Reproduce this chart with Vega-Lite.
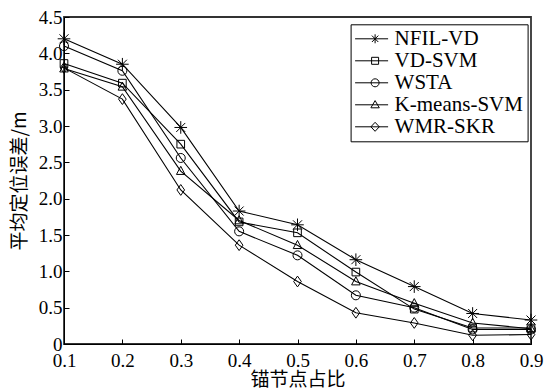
{
  "$schema": "https://vega.github.io/schema/vega-lite/v6.json",
  "width": 467,
  "height": 327,
  "autosize": {"type": "none"},
  "padding": {"left": 64, "top": 17, "right": 14, "bottom": 46},
  "background": "white",
  "config": {
    "view": {"stroke": "#333333", "strokeWidth": 1.8},
    "axis": {
      "domainColor": "black",
      "tickColor": "black",
      "tickSize": -5,
      "grid": false,
      "labelFont": "Liberation Serif",
      "labelFontSize": 19,
      "labelColor": "black",
      "titleFont": "Noto Sans CJK SC",
      "titleFontSize": 19,
      "titleFontWeight": "normal",
      "titleColor": "black"
    }
  },
  "data": {
    "values": [
      {"x": 0.1, "series": "NFIL-VD", "y": 4.2},
      {"x": 0.2, "series": "NFIL-VD", "y": 3.85},
      {"x": 0.3, "series": "NFIL-VD", "y": 2.98},
      {"x": 0.4, "series": "NFIL-VD", "y": 1.83},
      {"x": 0.5, "series": "NFIL-VD", "y": 1.64},
      {"x": 0.6, "series": "NFIL-VD", "y": 1.16},
      {"x": 0.7, "series": "NFIL-VD", "y": 0.79},
      {"x": 0.8, "series": "NFIL-VD", "y": 0.42},
      {"x": 0.9, "series": "NFIL-VD", "y": 0.33},
      {"x": 0.1, "series": "VD-SVM", "y": 3.86},
      {"x": 0.2, "series": "VD-SVM", "y": 3.59},
      {"x": 0.3, "series": "VD-SVM", "y": 2.75},
      {"x": 0.4, "series": "VD-SVM", "y": 1.68},
      {"x": 0.5, "series": "VD-SVM", "y": 1.53},
      {"x": 0.6, "series": "VD-SVM", "y": 0.99},
      {"x": 0.7, "series": "VD-SVM", "y": 0.48},
      {"x": 0.8, "series": "VD-SVM", "y": 0.22},
      {"x": 0.9, "series": "VD-SVM", "y": 0.22},
      {"x": 0.1, "series": "WSTA", "y": 4.1},
      {"x": 0.2, "series": "WSTA", "y": 3.76},
      {"x": 0.3, "series": "WSTA", "y": 2.56},
      {"x": 0.4, "series": "WSTA", "y": 1.55},
      {"x": 0.5, "series": "WSTA", "y": 1.22},
      {"x": 0.6, "series": "WSTA", "y": 0.67},
      {"x": 0.7, "series": "WSTA", "y": 0.5},
      {"x": 0.8, "series": "WSTA", "y": 0.2},
      {"x": 0.9, "series": "WSTA", "y": 0.2},
      {"x": 0.1, "series": "K-means-SVM", "y": 3.79},
      {"x": 0.2, "series": "K-means-SVM", "y": 3.54},
      {"x": 0.3, "series": "K-means-SVM", "y": 2.38},
      {"x": 0.4, "series": "K-means-SVM", "y": 1.7},
      {"x": 0.5, "series": "K-means-SVM", "y": 1.36},
      {"x": 0.6, "series": "K-means-SVM", "y": 0.86},
      {"x": 0.7, "series": "K-means-SVM", "y": 0.56},
      {"x": 0.8, "series": "K-means-SVM", "y": 0.29},
      {"x": 0.9, "series": "K-means-SVM", "y": 0.21},
      {"x": 0.1, "series": "WMR-SKR", "y": 3.8},
      {"x": 0.2, "series": "WMR-SKR", "y": 3.37},
      {"x": 0.3, "series": "WMR-SKR", "y": 2.12},
      {"x": 0.4, "series": "WMR-SKR", "y": 1.36},
      {"x": 0.5, "series": "WMR-SKR", "y": 0.86},
      {"x": 0.6, "series": "WMR-SKR", "y": 0.43},
      {"x": 0.7, "series": "WMR-SKR", "y": 0.29},
      {"x": 0.8, "series": "WMR-SKR", "y": 0.12},
      {"x": 0.9, "series": "WMR-SKR", "y": 0.13}
    ]
  },
  "encoding": {
    "x": {
      "field": "x", "type": "quantitative",
      "scale": {"domain": [0.1, 0.9], "nice": false, "zero": false},
      "axis": {"values": [0.1, 0.2, 0.3, 0.4, 0.5, 0.6, 0.7, 0.8, 0.9], "format": ".1f", "title": "锚节点占比", "labelPadding": 12, "titlePadding": 0, "labelFlush": false}
    },
    "y": {
      "field": "y", "type": "quantitative",
      "scale": {"domain": [0, 4.5], "nice": false},
      "axis": {"values": [0, 0.5, 1, 1.5, 2, 2.5, 3, 3.5, 4, 4.5], "labelExpr": "datum.value == 0 ? '0' : format(datum.value, '.1f')", "title": "平均定位误差/m", "labelPadding": 7, "titlePadding": 9, "labelFlush": false}
    }
  },
  "layer": [
    {
      "mark": {"type": "line", "color": "black", "strokeWidth": 1.1},
      "encoding": {"detail": {"field": "series", "type": "nominal"}}
    },
    {
      "mark": {"type": "point", "filled": false, "color": "black", "strokeWidth": 1, "size": 81, "opacity": 1},
      "encoding": {
        "shape": {
          "field": "series", "type": "nominal",
          "scale": {
            "domain": ["NFIL-VD", "VD-SVM", "WSTA", "K-means-SVM", "WMR-SKR"],
            "range": [
              "M-1.4,0L1.4,0M0,-1.4L0,1.4M-1,-1L1,1M-1,1L1,-1",
              "M-0.85,-0.85H0.85V0.85H-0.85Z",
              "circle",
              "M0,-1.05L0.95,0.75L-0.95,0.75Z",
              "M0,-1.2L0.85,0L0,1.2L-0.85,0Z"
            ]
          },
          "legend": null
        }
      }
    },
    {
      "mark": {"type": "point", "filled": false, "color": "black", "strokeWidth": 1, "size": 400, "opacity": 0},
      "encoding": {
        "shape": {
          "field": "series", "type": "nominal",
          "scale": {
            "domain": ["NFIL-VD", "VD-SVM", "WSTA", "K-means-SVM", "WMR-SKR"],
            "range": [
              "M-1,0L2.3,0M1,-0.45L1,0.45M0.68,-0.32L1.32,0.32M0.68,0.32L1.32,-0.32",
              "M-1,0L2.3,0M0.65,-0.35L1.35,-0.35L1.35,0.35L0.65,0.35Z",
              "M-1,0L2.3,0M0.6,0A0.4,0.4,0,1,1,1.4,0A0.4,0.4,0,1,1,0.6,0Z",
              "M-1,0L2.3,0M1,-0.42L1.42,0.3L0.58,0.3Z",
              "M-1,0L2.3,0M1,-0.45L1.42,0L1,0.45L0.58,0Z"
            ]
          },
          "legend": {
            "title": null,
            "orient": "none",
            "legendX": 286.6,
            "legendY": 7.3,
            "symbolSize": 400,
            "symbolOpacity": 1,
            "symbolStrokeColor": "black",
            "symbolStrokeWidth": 1,
            "labelFont": "Liberation Serif",
            "labelFontSize": 21,
            "labelColor": "black",
            "labelOffset": 19,
            "labelLimit": 300,
            "rowPadding": 0,
            "padding": 4,
            "strokeColor": "black",
            "fillColor": "white",
            "cornerRadius": 0
          }
        }
      }
    }
  ],
  "resolve": {"scale": {"shape": "independent"}}
}
